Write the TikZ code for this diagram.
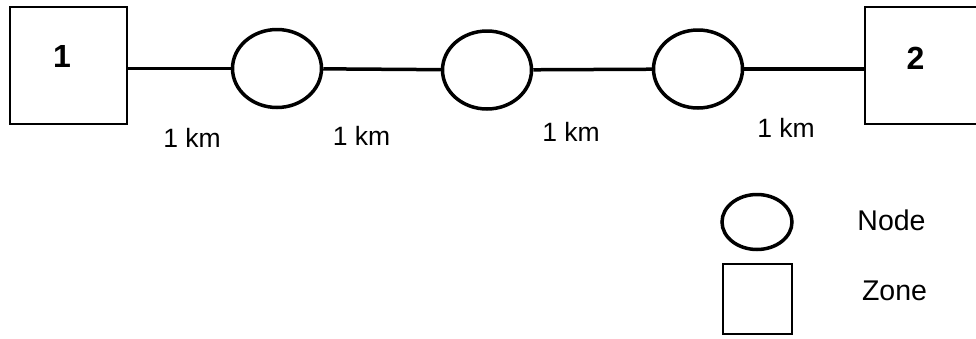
\documentclass[tikz,border=0pt]{standalone}
\usepackage{fontspec}
\setmainfont{Liberation Sans}
\usetikzlibrary{shapes.geometric}
\begin{document}
\begin{tikzpicture}[x=1pt,y=-1pt,
  zonebox/.style={draw,line width=2pt,minimum width=117pt,minimum height=117pt,inner sep=0pt},
  nodeell/.style={draw,ellipse,line width=3.5pt,minimum width=89pt,minimum height=78pt,inner sep=0pt},
  link/.style={line width=3.5pt},
  kmlabel/.style={inner sep=0pt,font=\fontsize{26.5}{31}\selectfont},
  zonelabel/.style={inner sep=0pt,font=\fontsize{32}{38}\selectfont\bfseries},
  legendlabel/.style={inner sep=0pt,font=\fontsize{28.5}{34}\selectfont}]
\useasboundingbox (0,0) rectangle (976,338);
\clip (0,0) rectangle (976,338);
% zones
\node[zonebox] (z1) at (68.5,65) {};
\node[zonebox] (z2) at (923,65.5) {};
\node[zonelabel] (t1) at (62,56.5) {1};
\node[zonelabel] (t2) at (915.5,58.5) {2};
% nodes
\node[nodeell] (n1) at (277,68.5) {};
\node[nodeell] (n2) at (487,70) {};
\node[nodeell] (n3) at (698,69) {};
% links
\draw[link] (z1.east |- n1.west) -- (n1.west);
\draw[link] (n1) -- (n2);
\draw[link] (n2) -- (n3);
\draw[link] (n3.east) -- (n3.east -| z2.west);
% distance labels
\node[kmlabel] (k1) at (192,137.5) {1 km};
\node[kmlabel] (k2) at (361.5,136) {1 km};
\node[kmlabel] (k3) at (571,132) {1 km};
\node[kmlabel] (k4) at (786,128) {1 km};
% legend
\node[draw,ellipse,line width=3.5pt,minimum width=70pt,minimum height=55pt,inner sep=0pt] (ln) at (757,222) {};
\node[draw,line width=2pt,minimum width=69pt,minimum height=70pt,inner sep=0pt] (lz) at (757,299) {};
\node[legendlabel] (lnt) at (891.5,220.5) {Node};
\node[legendlabel] (lzt) at (894.5,290.5) {Zone};
\end{tikzpicture}
\end{document}
